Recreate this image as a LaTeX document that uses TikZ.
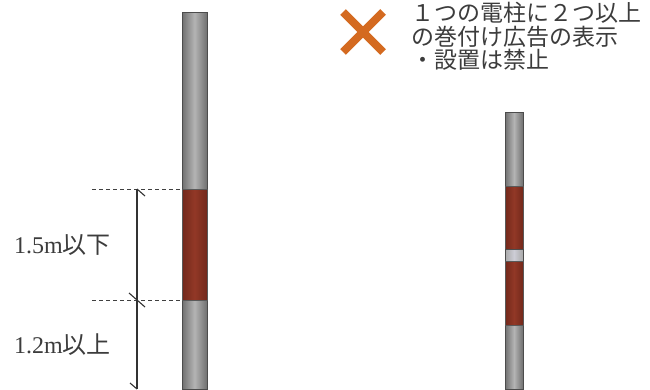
\documentclass[tikz,border=0pt]{standalone}
\usepackage{fontspec}
\setmainfont{Liberation Serif}
\newfontfamily\jp{Noto Sans CJK JP}
\definecolor{poledark}{RGB}{112,112,112}
\definecolor{polelight}{RGB}{180,180,180}
\definecolor{bandred}{RGB}{146,56,38}
\definecolor{banddark}{RGB}{114,40,27}
\definecolor{gaplight}{RGB}{205,205,214}
\definecolor{crossorange}{RGB}{212,106,32}
\definecolor{txtgray}{RGB}{60,60,60}
\tikzset{
  pole/.style={draw=black!70, line width=1pt, left color=poledark, right color=poledark, middle color=polelight},
  band/.style={draw=black!65, line width=0.8pt, left color=banddark, right color=banddark, middle color=bandred},
  gap/.style={draw=black!70, line width=1pt, left color=poledark!60, right color=poledark!60, middle color=gaplight},
  guide/.style={draw=black!75, line width=1pt, dash pattern=on 4pt off 3pt},
  dimline/.style={draw=black!80, line width=1.1pt},
  lbl/.style={font=\fontsize{24}{24}\selectfont, text=txtgray, inner sep=0pt},
}
\begin{document}
\begin{tikzpicture}[x=1pt, y=-1pt]
\useasboundingbox (0,0) rectangle (650,389);
\def\pa{182}
\def\pb{207}
\def\qa{505}
\def\qb{523}
% linker Mast mit einem Band
\filldraw[pole] (\pa,12) rectangle (\pb,389);
\filldraw[band] (\pa,189) rectangle (\pb,300);
% rechter Mast mit zwei Baendern
\filldraw[pole] (\qa,112) rectangle (\qb,389);
\filldraw[band] (\qa,186) rectangle (\qb,249);
\filldraw[gap]  (\qa,249) rectangle (\qb,261);
\filldraw[band] (\qa,261) rectangle (\qb,325);
% Bemassung
\coordinate (G1) at (92,189);
\coordinate (G2) at (92,300);
\coordinate (D1) at (137,189);
\coordinate (D2) at (137,300);
\coordinate (D3) at (137,389);
\draw[guide] (G1) -- (\pa,189);
\draw[guide] (G2) -- (\pa,300);
\draw[dimline] (D1) -- (D3);
\draw[dimline] (D1) -- ++(8,7);
\draw[dimline] (D2) ++(-8,-7) -- ++(16,14);
\draw[dimline] (D3) -- ++(-7,-6);
\node[lbl, anchor=west] (h1) at (14,245) {1.5m{\jp 以下}};
\node[lbl, anchor=west] (h2) at (14,345) {1.2m{\jp 以上}};
% Kreuz und Hinweis
\coordinate (X0) at (363,32);
\draw[crossorange, line width=8pt] (X0) ++(-20,-20) -- ++(40,40);
\draw[crossorange, line width=8pt] (X0) ++(-20,20) -- ++(40,-40);
\node[lbl, font=\jp\fontsize{23}{23.5}\selectfont, anchor=north west, align=left] (note) at (411,2)
  {１つの電柱に２つ以上\\の巻付け広告の表示\\・設置は禁止};
\end{tikzpicture}
\end{document}
